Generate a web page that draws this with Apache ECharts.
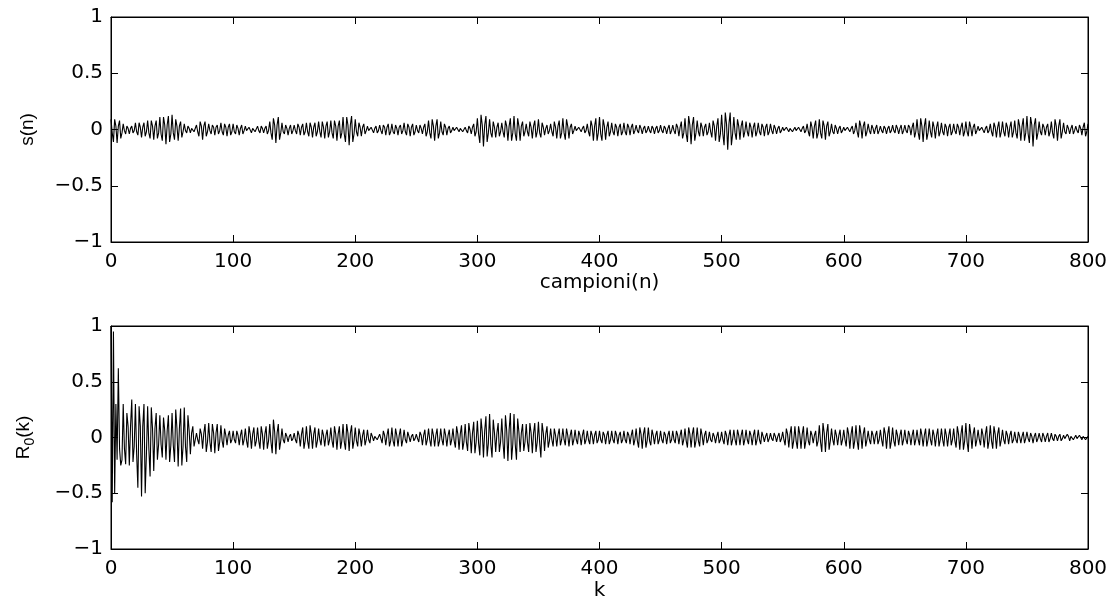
<!DOCTYPE html>
<html>
<head>
<meta charset="utf-8">
<script src="https://cdn.jsdelivr.net/npm/echarts@6/dist/echarts.min.js"></script>
<style>html,body{margin:0;padding:0;background:#fff}#c{width:1117px;height:602px}</style>
</head>
<body>
<div id="c"></div>
<script>
// x tick labels (samples / lags)
const xTicks = [0, 100, 200, 300, 400, 500, 600, 700, 800];
const yTicks = [-1, -0.5, 0, 0.5, 1];

// s(n): 801 samples (10 per row)
const sValues = [
.09,-.03,-.11,.09,.03,-.12,.03,.08,-.08,-.03,
.05,-.01,-.04,.03,.01,-.04,.01,.03,-.03,-.01,
.06,-.02,-.05,.06,.02,-.07,.02,.06,-.06,-.02,
.08,-.03,-.08,.08,.03,-.09,.03,.08,-.08,-.03,
.11,-.04,-.1,.11,.04,-.13,.04,.12,-.11,-.04,
.13,-.03,-.09,.09,.03,-.1,.03,.07,-.07,-.02,
.05,-.01,-.03,.03,.01,-.03,.01,.02,-.02,-.01,
.04,-.02,-.06,.07,.03,-.09,.03,.07,-.06,-.02,
.05,-.01,-.04,.04,.02,-.05,.02,.04,-.04,-.01,
.06,-.02,-.05,.05,.02,-.06,.02,.05,-.05,-.02,
.05,-.02,-.04,.04,.01,-.05,.01,.04,-.04,-.01,
.03,-.01,-.02,.02,.01,-.03,.01,.02,-.02,-.01,
.03,-.01,-.03,.03,.01,-.03,.01,.03,-.04,-.01,
.07,-.03,-.09,.1,.04,-.12,.04,.11,-.09,-.03,
.06,-.02,-.04,.04,.01,-.05,.01,.04,-.04,-.01,
.04,-.01,-.04,.05,.02,-.05,.02,.05,-.05,-.02,
.06,-.02,-.06,.06,.02,-.07,.02,.06,-.06,-.02,
.07,-.02,-.07,.07,.02,-.08,.03,.07,-.07,-.02,
.08,-.03,-.08,.08,.03,-.1,.03,.08,-.08,-.03,
.11,-.04,-.11,.11,.04,-.14,.04,.12,-.11,-.04,
.09,-.02,-.06,.06,.02,-.06,.02,.05,-.04,-.01,
.03,-.01,-.02,.02,.01,-.03,.01,.03,-.03,-.01,
.04,-.01,-.04,.04,.02,-.05,.02,.05,-.05,-.02,
.05,-.02,-.04,.04,.01,-.05,.02,.04,-.04,-.01,
.06,-.02,-.05,.05,.02,-.06,.02,.05,-.05,-.02,
.04,-.01,-.03,.04,.01,-.04,.02,.05,-.06,-.02,
.08,-.03,-.08,.09,.03,-.1,.03,.09,-.08,-.03,
.07,-.02,-.05,.05,.02,-.05,.01,.03,-.03,-.01,
.02,-.01,-.02,.02,.01,-.02,.01,.02,-.02,-.01,
.02,-.01,-.03,.03,.01,-.04,.02,.05,-.06,-.02,
.1,-.04,-.12,.13,.04,-.15,.04,.12,-.11,-.03,
.09,-.03,-.07,.07,.02,-.07,.02,.06,-.06,-.02,
.06,-.02,-.07,.08,.03,-.1,.03,.1,-.1,-.03,
.12,-.04,-.1,.1,.03,-.1,.03,.07,-.06,-.02,
.05,-.02,-.06,.07,.02,-.08,.03,.08,-.07,-.02,
.09,-.03,-.07,.06,.02,-.05,.01,.04,-.04,-.01,
.05,-.02,-.06,.07,.02,-.08,.03,.08,-.08,-.03,
.1,-.03,-.09,.09,.03,-.08,.02,.05,-.04,-.01,
.03,-.01,-.02,.02,.01,-.02,.01,.03,-.03,-.01,
.05,-.02,-.06,.08,.03,-.1,.03,.1,-.1,-.03,
.11,-.04,-.1,.09,.03,-.09,.02,.07,-.06,-.02,
.06,-.02,-.05,.05,.02,-.06,.02,.05,-.05,-.02,
.06,-.02,-.05,.05,.02,-.05,.02,.05,-.04,-.01,
.04,-.01,-.03,.04,.01,-.04,.01,.03,-.03,-.01,
.03,-.01,-.03,.03,.01,-.04,.01,.03,-.03,-.01,
.04,-.01,-.03,.03,.01,-.04,.01,.04,-.04,-.01,
.04,-.01,-.04,.05,.02,-.06,.02,.07,-.08,-.03,
.1,-.04,-.11,.12,.04,-.13,.04,.11,-.1,-.03,
.08,-.02,-.06,.06,.02,-.06,.02,.05,-.05,-.02,
.06,-.02,-.07,.08,.03,-.1,.03,.1,-.11,-.04,
.13,-.04,-.14,.15,.05,-.18,.05,.15,-.14,-.04,
.11,-.03,-.09,.09,.03,-.09,.03,.08,-.07,-.02,
.07,-.02,-.06,.06,.02,-.07,.02,.06,-.06,-.02,
.06,-.02,-.05,.05,.02,-.06,.02,.05,-.05,-.02,
.05,-.01,-.04,.04,.01,-.04,.01,.03,-.03,-.01,
.02,-.01,-.02,.02,.01,-.02,.01,.02,-.02,-.01,
.02,-.01,-.02,.02,.01,-.02,.01,.03,-.03,-.01,
.05,-.02,-.06,.07,.02,-.08,.03,.08,-.08,-.03,
.09,-.03,-.08,.08,.03,-.09,.03,.07,-.06,-.02,
.05,-.02,-.04,.04,.01,-.04,.01,.03,-.03,-.01,
.02,-.01,-.02,.02,.01,-.02,.01,.03,-.04,-.01,
.06,-.02,-.07,.08,.03,-.08,.03,.07,-.06,-.02,
.05,-.01,-.04,.04,.01,-.04,.01,.04,-.04,-.01,
.03,-.01,-.03,.03,.01,-.04,.01,.03,-.03,-.01,
.04,-.01,-.03,.04,.01,-.04,.01,.04,-.04,-.01,
.04,-.01,-.03,.04,.02,-.05,.02,.06,-.07,-.02,
.09,-.03,-.09,.1,.03,-.11,.03,.1,-.09,-.03,
.08,-.02,-.07,.07,.02,-.08,.02,.07,-.06,-.02,
.06,-.02,-.05,.05,.02,-.06,.02,.05,-.05,-.02,
.05,-.01,-.04,.05,.02,-.05,.02,.06,-.06,-.02,
.07,-.02,-.06,.07,.02,-.06,.02,.05,-.04,-.01,
.03,-.01,-.02,.02,.01,-.03,.01,.03,-.03,-.01,
.05,-.02,-.06,.06,.02,-.07,.02,.07,-.07,-.02,
.07,-.02,-.06,.06,.02,-.07,.02,.07,-.07,-.02,
.08,-.03,-.08,.09,.03,-.1,.03,.1,-.1,-.03,
.12,-.04,-.12,.11,.04,-.15,.04,.1,-.09,-.03,
.07,-.02,-.05,.05,.02,-.05,.02,.05,-.06,-.02,
.07,-.03,-.08,.09,.03,-.1,.03,.09,-.08,-.02,
.06,-.02,-.04,.04,.01,-.04,.01,.04,-.04,-.01,
.03,-.01,-.03,.04,.01,-.05,.02,.06,-.06,-.02,
.05
];

// R0(k): 801 lags (10 per row)
const rValues = [
1,-.58,.95,-.5,.3,-.2,.62,-.1,-.25,-.2,
.3,-.1,-.24,.22,.1,-.25,.1,.34,-.22,-.08,
.3,-.15,-.45,.28,.1,-.53,.1,.3,-.5,-.15,
.28,-.1,-.35,.27,.08,-.3,.08,.22,-.2,-.06,
.2,-.06,-.18,.18,.06,-.2,.06,.2,-.22,-.07,
.22,-.07,-.22,.25,.08,-.26,.08,.26,-.25,-.08,
.27,-.08,-.22,.2,.06,-.15,.04,.1,-.08,-.02,
.04,-.02,-.06,.08,.03,-.1,.04,.12,-.13,-.04,
.13,-.04,-.13,.12,.04,-.14,.04,.12,-.12,-.04,
.11,-.03,-.09,.08,.02,-.07,.02,.06,-.05,-.02,
.06,-.02,-.05,.06,.02,-.07,.02,.07,-.07,-.02,
.08,-.03,-.09,.1,.03,-.1,.03,.09,-.08,-.03,
.09,-.03,-.1,.1,.03,-.11,.03,.1,-.1,-.03,
.12,-.04,-.14,.16,.05,-.15,.04,.12,-.11,-.03,
.08,-.02,-.05,.04,.01,-.04,.01,.03,-.03,-.01,
.04,-.02,-.05,.06,.02,-.08,.03,.09,-.1,-.03,
.1,-.03,-.1,.11,.03,-.1,.03,.09,-.09,-.03,
.08,-.02,-.07,.07,.02,-.08,.02,.07,-.07,-.02,
.09,-.03,-.09,.1,.03,-.11,.03,.1,-.1,-.03,
.12,-.04,-.11,.12,.04,-.12,.04,.11,-.1,-.03,
.09,-.03,-.08,.08,.02,-.08,.02,.07,-.07,-.02,
.07,-.02,-.05,.04,.01,-.03,.01,.02,-.02,-.01,
.03,-.01,-.05,.06,.02,-.07,.02,.08,-.08,-.03,
.09,-.03,-.08,.08,.02,-.08,.02,.08,-.08,-.02,
.07,-.02,-.05,.05,.01,-.04,.01,.03,-.03,-.01,
.03,-.01,-.04,.05,.02,-.07,.02,.07,-.07,-.02,
.08,-.02,-.08,.08,.02,-.08,.02,.08,-.08,-.03,
.08,-.02,-.07,.08,.02,-.08,.02,.07,-.07,-.02,
.08,-.03,-.09,.1,.03,-.11,.03,.11,-.11,-.04,
.12,-.04,-.12,.13,.04,-.14,.04,.14,-.14,-.04,
.15,-.05,-.16,.17,.05,-.18,.06,.19,-.17,-.05,
.21,-.06,-.18,.16,.04,-.13,.04,.13,-.13,-.04,
.17,-.05,-.19,.2,.06,-.21,.07,.22,-.2,-.06,
.21,-.06,-.2,.17,.05,-.13,.04,.12,-.12,-.04,
.12,-.04,-.13,.13,.04,-.14,.04,.13,-.13,-.04,
.14,-.05,-.18,.13,.04,-.12,.03,.1,-.09,-.03,
.08,-.02,-.08,.08,.02,-.08,.02,.08,-.07,-.02,
.08,-.02,-.07,.08,.02,-.08,.02,.07,-.07,-.02,
.07,-.02,-.06,.06,.02,-.07,.02,.07,-.06,-.02,
.06,-.02,-.06,.06,.02,-.06,.02,.06,-.05,-.02,
.06,-.02,-.05,.05,.02,-.06,.02,.06,-.06,-.02,
.06,-.02,-.05,.06,.02,-.06,.02,.05,-.05,-.02,
.06,-.02,-.05,.05,.02,-.06,.02,.07,-.07,-.02,
.08,-.03,-.09,.09,.03,-.1,.03,.09,-.09,-.03,
.09,-.03,-.07,.07,.02,-.06,.02,.06,-.06,-.02,
.06,-.02,-.05,.05,.02,-.06,.02,.06,-.05,-.02,
.06,-.02,-.05,.06,.02,-.06,.02,.07,-.07,-.02,
.08,-.03,-.09,.09,.03,-.09,.03,.09,-.09,-.03,
.09,-.03,-.08,.08,.02,-.07,.02,.06,-.05,-.02,
.05,-.02,-.04,.04,.01,-.05,.01,.05,-.05,-.02,
.05,-.02,-.06,.06,.02,-.07,.02,.07,-.07,-.02,
.07,-.02,-.07,.07,.02,-.07,.02,.07,-.07,-.02,
.07,-.02,-.06,.06,.02,-.07,.02,.07,-.07,-.02,
.07,-.02,-.06,.05,.01,-.04,.01,.04,-.04,-.01,
.04,-.01,-.03,.04,.01,-.04,.01,.04,-.04,-.01,
.05,-.02,-.07,.08,.03,-.09,.03,.1,-.1,-.03,
.1,-.03,-.1,.1,.03,-.1,.03,.1,-.1,-.03,
.09,-.03,-.07,.06,.02,-.05,.02,.06,-.08,-.03,
.11,-.04,-.13,.13,.04,-.13,.04,.12,-.11,-.03,
.08,-.02,-.07,.07,.02,-.07,.02,.07,-.07,-.02,
.07,-.02,-.08,.09,.03,-.1,.03,.1,-.1,-.03,
.11,-.03,-.11,.11,.03,-.1,.03,.09,-.08,-.02,
.06,-.02,-.06,.06,.02,-.06,.02,.06,-.06,-.02,
.07,-.02,-.08,.09,.03,-.1,.03,.1,-.1,-.03,
.09,-.03,-.08,.07,.02,-.07,.02,.07,-.07,-.02,
.07,-.02,-.06,.06,.02,-.07,.02,.07,-.07,-.02,
.07,-.02,-.07,.08,.02,-.08,.02,.08,-.08,-.02,
.08,-.02,-.07,.07,.02,-.08,.02,.08,-.08,-.02,
.08,-.02,-.08,.08,.02,-.08,.02,.08,-.07,-.02,
.08,-.03,-.09,.1,.03,-.11,.03,.11,-.11,-.03,
.13,-.04,-.13,.12,.03,-.1,.03,.09,-.08,-.02,
.07,-.02,-.07,.08,.02,-.09,.03,.1,-.1,-.03,
.11,-.03,-.1,.1,.03,-.1,.03,.09,-.08,-.02,
.07,-.02,-.06,.06,.02,-.06,.02,.06,-.05,-.02,
.05,-.02,-.05,.05,.01,-.05,.01,.05,-.05,-.01,
.05,-.01,-.04,.04,.01,-.05,.01,.04,-.04,-.01,
.04,-.01,-.04,.04,.01,-.04,.01,.04,-.04,-.01,
.04,-.01,-.03,.03,.01,-.03,.01,.03,-.03,-.01,
.02,-.01,-.02,.03,.01,-.03,.01,.02,-.02,-.01,
.02,-.01,-.02,.02,.01,-.02,.01,.02,-.02,-.01,
.01
];

const FONT = '"DejaVu Sans", "Liberation Sans", Arial, sans-serif';
const NAMEFONT = '"Liberation Sans", Arial, Helvetica, sans-serif';
const fmtNum = v => String(v).replace('-', '\u2212');

function xAx(gridIndex, pos, labels, name, nameGap) {
  return {
    type: 'value', gridIndex, position: pos,
    min: xTicks[0], max: xTicks[xTicks.length - 1], interval: 100,
    name: name || '', nameLocation: 'middle', nameGap: nameGap || 0,
    nameTextStyle: { fontFamily: FONT, fontSize: 20, color: '#000' },
    axisLine: { show: true, onZero: false, lineStyle: { color: '#000', width: 1 } },
    axisTick: { show: true, inside: true, length: 7, lineStyle: { color: '#000' } },
    axisLabel: { show: labels, fontFamily: FONT, fontSize: 20, color: '#000', margin: 10, formatter: fmtNum },
    splitLine: { show: false }
  };
}
function yAx(gridIndex, pos, labels, name) {
  return {
    type: 'value', gridIndex, position: pos,
    min: yTicks[0], max: yTicks[yTicks.length - 1], interval: 0.5,
    name: name || '', nameLocation: 'middle', nameGap: 74,
    nameTextStyle: {
      fontFamily: NAMEFONT, fontSize: 19, color: '#000',
      rich: {
        a: { fontFamily: NAMEFONT, fontSize: 19, color: '#000' },
        sub: { fontFamily: NAMEFONT, fontSize: 14, color: '#000', padding: [12, 0, 0, 0] }
      }
    },
    axisLine: { show: true, onZero: false, lineStyle: { color: '#000', width: 1 } },
    axisTick: { show: true, inside: true, length: 7, lineStyle: { color: '#000' } },
    axisLabel: { show: labels, fontFamily: FONT, fontSize: 20, color: '#000', margin: 8, formatter: fmtNum },
    splitLine: { show: false }
  };
}

const chart = echarts.init(document.getElementById('c'), null, { renderer: 'canvas' });
chart.setOption({
  animation: false,
  backgroundColor: '#fff',
  grid: [
    { left: 111, right: 29, top: 17, height: 225, show: true, borderColor: '#000', borderWidth: 1 },
    { left: 111, right: 29, top: 326, height: 225, show: true, borderColor: '#000', borderWidth: 1 }
  ],
  xAxis: [
    xAx(0, 'bottom', true, 'campioni(n)', 24),
    xAx(1, 'bottom', true, 'k', 32),
    xAx(0, 'top', false),
    xAx(1, 'top', false)
  ],
  yAxis: [
    yAx(0, 'left', true, 's(n)'),
    yAx(1, 'left', true, '{a|R}{sub|0}{a|(k)}'),
    yAx(0, 'right', false),
    yAx(1, 'right', false)
  ],
  series: [
    {
      type: 'line', xAxisIndex: 0, yAxisIndex: 0,
      data: sValues.map((v, i) => [i, v]),
      showSymbol: false, sampling: null,
      lineStyle: { color: '#000', width: 1.1 }
    },
    {
      type: 'line', xAxisIndex: 1, yAxisIndex: 1,
      data: rValues.map((v, i) => [i, v]),
      showSymbol: false, sampling: null,
      lineStyle: { color: '#000', width: 1.1 }
    }
  ]
});
</script>
</body>
</html>
